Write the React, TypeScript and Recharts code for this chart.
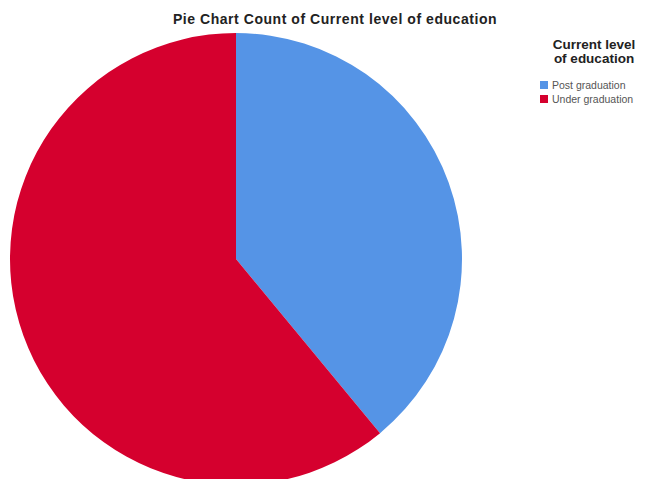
import React from "react";
import { PieChart, Pie, Cell, Legend } from "recharts";

const categories = ["Post graduation", "Under graduation"];
const counts = [39, 61];
const colors = ["#5594e6", "#d5002e"];
const chartTitle = "Pie Chart Count of Current level of education";
const legendTitle = ["Current level", "of education"];

const data = categories.map((name, i) => ({ name, value: counts[i] }));

const renderLegend = () => (
  <div style={{ fontFamily: "'Liberation Sans', Arial, sans-serif" }}>
    <div
      style={{
        fontWeight: 700,
        fontSize: 13.5,
        lineHeight: "14px",
        color: "#222",
        textAlign: "center",
        width: 108,
      }}
    >
      {legendTitle.map((l) => (
        <div key={l}>{l}</div>
      ))}
    </div>
    <div style={{ marginTop: 12 }}>
      {categories.map((c, i) => (
        <div
          key={c}
          style={{ display: "flex", alignItems: "center", height: 14, fontSize: 10.5, color: "#555" }}
        >
          <span
            style={{
              display: "inline-block",
              width: 8,
              height: 8,
              background: colors[i],
              marginRight: 4,
            }}
          />
          <span>{c}</span>
        </div>
      ))}
    </div>
  </div>
);

export default function App() {
  return (
    <div style={{ position: "absolute", left: 0, top: 0, width: 652, height: 479, background: "#fff", overflow: "hidden" }}>
      <div
        style={{
          position: "absolute",
          left: 0,
          width: 670,
          top: 11,
          textAlign: "center",
          fontFamily: "'Liberation Sans', Arial, sans-serif",
          fontWeight: 700,
          fontSize: 14,
          letterSpacing: 0.55,
          color: "#222",
          zIndex: 2,
        }}
      >
        {chartTitle}
      </div>
      <PieChart width={652} height={479} margin={{ top: 0, right: 0, bottom: 0, left: 0 }}>
        <Pie
          data={data}
          dataKey="value"
          nameKey="name"
          cx={236}
          cy={259}
          outerRadius={226}
          startAngle={90}
          endAngle={-270}
          stroke="none"
          isAnimationActive={false}
        >
          {data.map((d, i) => (
            <Cell key={d.name} fill={colors[i]} />
          ))}
        </Pie>
        <Legend
          content={renderLegend}
          wrapperStyle={{ position: "absolute", left: 540, top: 38, width: 112 }}
        />
      </PieChart>
    </div>
  );
}
